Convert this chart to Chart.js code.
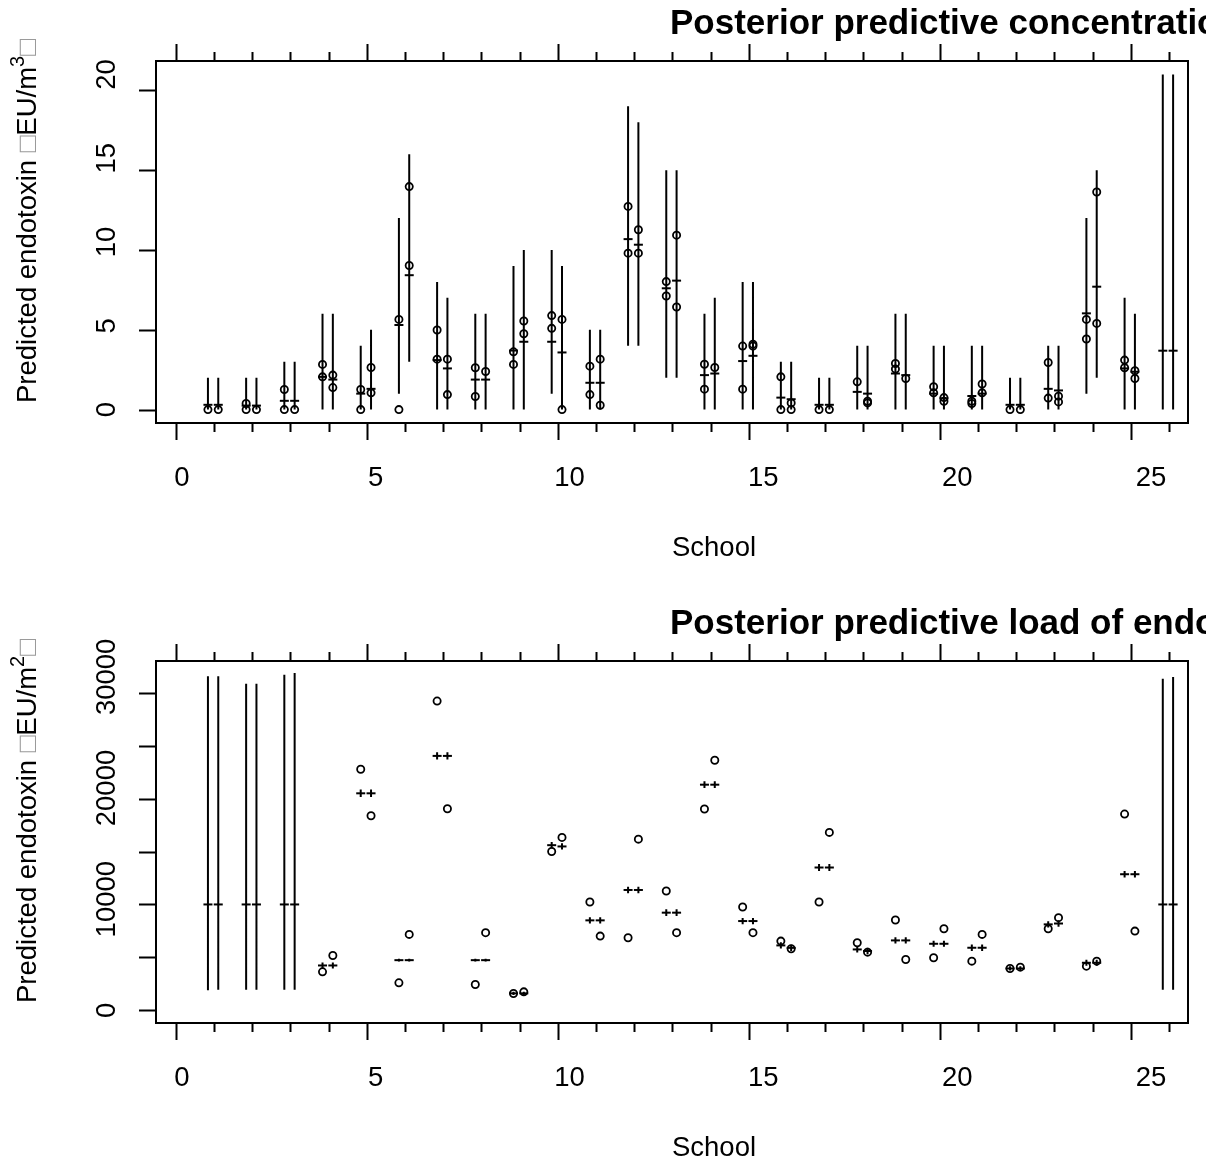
<!DOCTYPE html>
<html>
<head>
<meta charset="utf-8">
<title>Posterior predictive endotoxin</title>
<script src="https://cdn.jsdelivr.net/npm/chart.js@4.4.1/dist/chart.umd.min.js"></script>
<style>
  body { margin: 0; background: #fff; }
  canvas { display: block; }
</style>
</head>
<body>
<canvas id="conc-chart" width="1221" height="600"></canvas>
<canvas id="load-chart" width="1221" height="564"></canvas>
<script>
// ─── DATA ────────────────────────────────────────────────────────

const schools = [1, 2, 3, 4, 5, 6, 7, 8, 9, 10, 11, 12, 13, 14, 15, 16, 17, 18, 19, 20, 21, 22, 23, 24, 25, 26];

// concentration (EU/m3): first and second series per school
const concLoA  = [0, 0, 0, 0, 0, 1, 0, 0, 0, 1, 0, 4, 2, 0, 0, 0, 0, 0, 0, 0, 0, 0, 0, 1, 0, 0];
const concHiA  = [2, 2, 3, 6, 4, 12, 8, 6, 9, 10, 5, 19, 15, 6, 8, 3, 2, 4, 6, 4, 4, 2, 4, 12, 7, 21];
const concMedA = [0.3, 0.25, 0.55, 2.05, 1.0, 5.3, 3.1, 1.88, 3.7, 4.25, 1.68, 10.68, 7.6, 2.16, 3.04, 0.75, 0.3, 1.11, 2.26, 1.0, 0.85, 0.3, 1.3, 6.03, 2.58, 3.69];
const concObsA = [[0], [0.38, 0], [1.26, 0], [2.83, 2.05], [1.26, 0], [5.65, 0], [4.99, 3.16], [2.62, 0.82], [3.62, 2.83], [5.89, 5.09],
                  [2.72, 0.94], [12.73, 9.8], [8.02, 7.12], [2.84, 1.28], [3.98, 1.28], [2.05, 0], [0], [1.74], [2.89, 2.54], [1.43, 1.05],
                  [0.52, 0.38], [0], [2.95, 0.72], [5.65, 4.42], [3.1, 2.62], []];
const concLoB  = [0, 0, 0, 0, 0, 3, 0, 0, 0, 0, 0, 4, 2, 0, 0, 0, 0, 0, 0, 0, 0, 0, 0, 2, 0, 0];
const concHiB  = [2, 2, 3, 6, 5, 16, 7, 6, 10, 9, 5, 18, 15, 7, 8, 3, 2, 4, 6, 4, 4, 2, 4, 15, 6, 21];
const concMedB = [0.3, 0.25, 0.55, 1.88, 1.3, 8.42, 2.58, 1.88, 4.25, 3.58, 1.68, 10.33, 8.08, 2.26, 3.37, 0.65, 0.3, 1.0, 2.16, 0.7, 1.0, 0.3, 1.2, 7.7, 2.37, 3.69];
const concObsB = [[0], [0], [0], [2.16, 1.38], [2.64, 1.05], [13.97, 9.03], [3.16, 0.94], [2.39], [5.55, 4.75], [5.65, 0],
                  [3.16, 0.27], [11.27, 9.8], [10.93, 6.43], [2.64], [4.1, 3.98], [0.42, 0], [0], [0.52, 0.42], [1.95], [0.75, 0.52],
                  [1.6, 1.05], [0], [0.84, 0.48], [13.63, 5.4], [2.43, 1.95], []];

// load (EU/m2): first and second series per school
const loadLoA  = [1900, 1950, 1950, 3950, 20150, 4600, 23700, 4600, 1450, 15300, 8200, 11050, 8900, 21000, 8130, 5830, 13150, 5450, 6300, 6000, 5600, 3750, 7820, 4200, 12550, 1950];
const loadHiA  = [31550, 30850, 31700, 4520, 20850, 4870, 24370, 4870, 1750, 15900, 8800, 11680, 9550, 21630, 8730, 6430, 13830, 6050, 6900, 6570, 6220, 4150, 8420, 4780, 13150, 31330];
const loadMedA = [10000, 10000, 10000, 4235, 20500, 4737, 24034, 4737, 1600, 15600, 8497, 11368, 9224, 21315, 8431, 6130, 13490, 5750, 6603, 6285, 5909, 3950, 8118, 4490, 12855, 10000];
const loadObsA = [[], [], [], [3635], [22773], [2596], [29215], [2435], [1582], [15005], [10231], [6856], [11273], [19013], [9758], [6537], [10231], [6381],
                  [8526], [4962], [4642], [3950], [7709], [4168], [18539], []];
const loadLoB  = [1950, 1950, 1950, 3950, 20150, 4600, 23700, 4600, 1450, 15180, 8200, 11050, 8900, 21000, 8130, 5600, 13150, 5300, 6300, 6000, 5600, 3750, 7900, 4200, 12550, 1950];
const loadHiB  = [31550, 30850, 31870, 4520, 20850, 4870, 24370, 4870, 1750, 15780, 8800, 11680, 9550, 21630, 8730, 6200, 13830, 5900, 6900, 6570, 6220, 4150, 8500, 4780, 13150, 31500];
const loadMedB = [10000, 10000, 10000, 4235, 20500, 4737, 24034, 4737, 1600, 15480, 8497, 11368, 9224, 21315, 8431, 5900, 13490, 5600, 6603, 6285, 5909, 3950, 8200, 4490, 12855, 10000];
const loadObsB = [[], [], [], [5180], [18378], [7171], [19041], [7332], [1743], [16331], [7010], [16171], [7332], [23624], [7332], [5815], [16805], [5495],
                  [4803], [7709], [7171], [4074], [8750], [4642], [7484], []];

// axis ticks and labels
const xTicks = [0, 1, 2, 3, 4, 5, 6, 7, 8, 9, 10, 11, 12, 13, 14, 15, 16, 17, 18, 19, 20, 21, 22, 23, 24, 25, 26];
const xLabels = [0, 5, 10, 15, 20, 25];
const concYTicks = [0, 5, 10, 15, 20];
const concYLabels = [0, 5, 10, 15, 20];
const loadYTicks = [0, 5000, 10000, 15000, 20000, 25000, 30000];
const loadYLabels = [0, 10000, 20000, 30000];

// ─── CHART HELPERS ───────────────────────────────────────────────

const FONT = '"Liberation Sans", Arial, Helvetica, sans-serif';
const PAIR = [-0.16, 0.11];
// the text layer of the original is slightly wider spread than its tick marks
const TEXT_SPREAD_X = 1.015;
const TEXT_SPREAD_Y = 1.05;

function intervalPoints(lo, hi, off) {
  const pts = [];
  schools.forEach((s, i) => {
    pts.push({ x: s + off, y: lo[i] }, { x: s + off, y: hi[i] }, { x: s + off, y: null });
  });
  return pts;
}

function medianPoints(med, off) {
  return schools.map((s, i) => ({ x: s + off, y: med[i] }));
}

function obsPoints(obs, off) {
  return schools.flatMap((s, i) => obs[i].map(v => ({ x: s + off, y: v })));
}

function panelDatasets(loA, hiA, medA, obsA, loB, hiB, medB, obsB) {
  const line = d => ({ type: 'line', data: d, borderColor: '#000', borderWidth: 2, pointRadius: 0, spanGaps: false, order: 3 });
  const med = d => ({ type: 'scatter', data: d, pointStyle: 'line', pointRadius: 4.5, borderColor: '#000', borderWidth: 2, order: 2 });
  const obs = d => ({ type: 'scatter', data: d, pointStyle: 'circle', pointRadius: 3.6, borderColor: '#000', backgroundColor: 'rgba(0,0,0,0)', borderWidth: 1.8, order: 1 });
  return [
    line(intervalPoints(loA, hiA, PAIR[0])), line(intervalPoints(loB, hiB, PAIR[1])),
    med(medianPoints(medA, PAIR[0])), med(medianPoints(medB, PAIR[1])),
    obs(obsPoints(obsA, PAIR[0])), obs(obsPoints(obsB, PAIR[1])),
  ];
}

// R-style box, axes and text
const rAxes = {
  id: 'rAxes',
  afterDraw(chart, args, o) {
    const { ctx, chartArea: a, scales: { x, y } } = chart;
    ctx.save();
    ctx.strokeStyle = '#000';
    ctx.fillStyle = '#000';
    ctx.lineWidth = 2;
    ctx.strokeRect(a.left, a.top, a.right - a.left, a.bottom - a.top);

    ctx.beginPath();
    o.xTicks.forEach(v => {
      const px = Math.round(x.getPixelForValue(v)) + 0.5;
      const len = v % 5 === 0 ? 17 : 9;
      ctx.moveTo(px, a.bottom); ctx.lineTo(px, a.bottom + len);
      ctx.moveTo(px, a.top); ctx.lineTo(px, a.top - len);
    });
    o.yTicks.forEach(v => {
      const py = Math.round(y.getPixelForValue(v)) + 0.5;
      ctx.moveTo(a.left, py); ctx.lineTo(a.left - 17, py);
    });
    ctx.stroke();

    ctx.font = '27.5px ' + FONT;
    ctx.textAlign = 'center';
    ctx.textBaseline = 'alphabetic';
    const x0 = x.getPixelForValue(0);
    const y0 = y.getPixelForValue(0);
    o.xLabels.forEach(v => {
      const px = x0 + 6 + (x.getPixelForValue(v) - x0) * TEXT_SPREAD_X;
      ctx.fillText(String(v), px, a.bottom + 63);
    });
    o.yLabels.forEach(v => {
      const py = y0 + (y.getPixelForValue(v) - y0) * TEXT_SPREAD_Y;
      ctx.save();
      ctx.translate(a.left - 41, py);
      ctx.rotate(-Math.PI / 2);
      ctx.fillText(String(v), 0, 0);
      ctx.restore();
    });
    ctx.fillText('School', (a.left + a.right) / 2 + 42, a.bottom + 133);

    // rotated y title with superscript
    ctx.save();
    ctx.translate(36, a.bottom - 20);
    ctx.rotate(-Math.PI / 2);
    ctx.textAlign = 'left';
    let cx = 0;
    const piece = (txt, style) => {
      if (style === 'sup') {
        ctx.font = '20px ' + FONT;
        ctx.fillStyle = '#000';
        ctx.fillText(txt, cx, -12);
      } else {
        ctx.font = '27.5px ' + FONT;
        ctx.fillStyle = style === 'box' ? '#9a9a9a' : '#000';
        ctx.fillText(txt, cx, 0);
      }
      cx += ctx.measureText(txt).width;
    };
    piece('Predicted endotoxin ', 'text');
    piece('\u25A1', 'box');
    piece('EU/m', 'text');
    piece(o.power, 'sup');
    piece('\u25A1', 'box');
    ctx.restore();

    // main title, cut at the picture edge
    ctx.save();
    ctx.beginPath();
    ctx.rect(0, 0, a.right + 18, chart.height);
    ctx.clip();
    ctx.font = 'bold 35px ' + FONT;
    ctx.textAlign = 'left';
    ctx.fillStyle = '#000';
    ctx.fillText(o.title, 670, a.top - 27);
    ctx.restore();

    ctx.restore();
  }
};

function makePanel(id, height, yMin, yMax, datasets, axes) {
  return new Chart(document.getElementById(id), {
    type: 'scatter',
    data: { datasets },
    options: {
      responsive: false,
      animation: false,
      devicePixelRatio: 1,
      layout: { padding: { left: 156, right: 33, top: 61, bottom: height - 423 } },
      plugins: { legend: { display: false }, tooltip: { enabled: false }, rAxes: axes },
      scales: {
        x: { type: 'linear', min: -0.52, max: 26.5, display: false },
        y: { type: 'linear', min: yMin, max: yMax, display: false },
      },
    },
    plugins: [rAxes],
  });
}

makePanel('conc-chart', 600, -0.84, 21.84,
  panelDatasets(concLoA, concHiA, concMedA, concObsA, concLoB, concHiB, concMedB, concObsB),
  { title: 'Posterior predictive concentration of endotoxin', power: '3',
    xTicks, xLabels, yTicks: concYTicks, yLabels: concYLabels });

makePanel('load-chart', 564, -1200, 33000,
  panelDatasets(loadLoA, loadHiA, loadMedA, loadObsA, loadLoB, loadHiB, loadMedB, loadObsB),
  { title: 'Posterior predictive load of endotoxin', power: '2',
    xTicks, xLabels, yTicks: loadYTicks, yLabels: loadYLabels });
</script>
</body>
</html>
